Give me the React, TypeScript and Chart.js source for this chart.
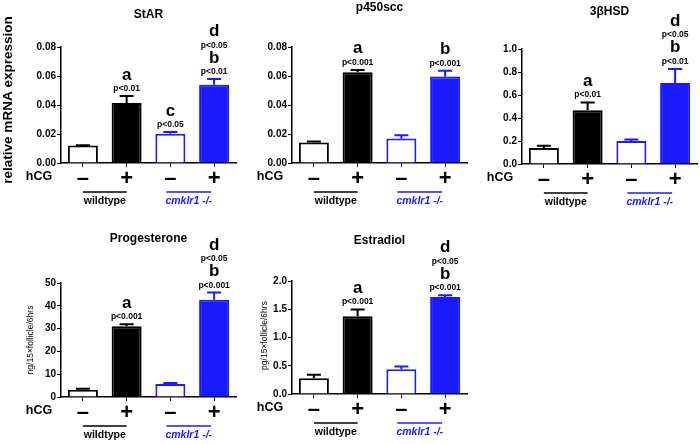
import React, { useEffect, useRef } from "react";
import { Chart, registerables } from "chart.js";
Chart.register(...registerables);

const FONT = "'Liberation Sans', Arial, Helvetica, sans-serif";
Chart.defaults.font.family = FONT;

// ---------- data ----------
const CATEGORIES = ["–", "+", "–", "+"];
const GROUPS = ["wildtype", "cmklr1 -/-"];
const X_LABEL = "hCG";

const STAR_VALUES = [0.0121, 0.0414, 0.0202, 0.054];
const STAR_SEM = [0.0002, 0.0048, 0.0011, 0.0039];
const STAR_ANN = [[], ["a", "p<0.01"], ["c", "p<0.05"], ["d", "p<0.05", "b", "p<0.01"]];

const P450_VALUES = [0.0142, 0.0626, 0.0169, 0.0596];
const P450_SEM = [0.0007, 0.0016, 0.0023, 0.0041];
const P450_ANN = [[], ["a", "p<0.001"], [], ["b", "p<0.001"]];

const HSD_VALUES = [0.139, 0.468, 0.2, 0.705];
const HSD_SEM = [0.02, 0.067, 0.014, 0.122];
const HSD_ANN = [[], ["a", "p<0.01"], [], ["d", "p<0.05", "b", "p<0.01"]];

const PROG_VALUES = [3.2, 31.0, 5.7, 42.7];
const PROG_SEM = [0.4, 0.9, 0.4, 3.1];
const PROG_ANN = [[], ["a", "p<0.001"], [], ["d", "p<0.05", "b", "p<0.001"]];

const E2_VALUES = [0.28, 1.378, 0.44, 1.719];
const E2_SEM = [0.06, 0.118, 0.047, 0.029];
const E2_ANN = [[], ["a", "p<0.001"], [], ["d", "p<0.05", "b", "p<0.001"]];

// ---------- styles ----------
const BLUE = "#1a1aff";
const FILLS = ["#ffffff", "#000000", "#ffffff", BLUE];
const BORDERS = ["#000000", "#000000", BLUE, BLUE];

type Panel = {
  title: string;
  values: number[];
  sem: number[];
  ann: string[][];
  max: number;
  step: number;
  decimals: number;
  yTitle?: string;
  yTitleBold?: boolean;
  yTitleSize?: number;
  yTitleDx?: number;
  yTitleDy?: number;
  box: { left: number; top: number; width: number; height: number };
  area: { left: number; top: number; right: number; bottom: number };
  titleY: number;
};

const PANELS: Panel[] = [
  {
    title: "StAR", values: STAR_VALUES, sem: STAR_SEM, ann: STAR_ANN,
    max: 0.08, step: 0.02, decimals: 2,
    yTitle: "relative mRNA expression", yTitleBold: true, yTitleSize: 13.5, yTitleDx: -53, yTitleDy: -5,
    box: { left: 0, top: 0, width: 240, height: 215 },
    area: { left: 61, top: 47, right: 236, bottom: 163 },
    titleY: 15,
  },
  {
    title: "p450scc", values: P450_VALUES, sem: P450_SEM, ann: P450_ANN,
    max: 0.08, step: 0.02, decimals: 2,
    box: { left: 232, top: 0, width: 240, height: 215 },
    area: { left: 60, top: 47, right: 235, bottom: 163 },
    titleY: 8,
  },
  {
    title: "3βHSD", values: HSD_VALUES, sem: HSD_SEM, ann: HSD_ANN,
    max: 1.0, step: 0.2, decimals: 1,
    box: { left: 462, top: 0, width: 238, height: 215 },
    area: { left: 60, top: 49, right: 235, bottom: 164 },
    titleY: 12,
  },
  {
    title: "Progesterone", values: PROG_VALUES, sem: PROG_SEM, ann: PROG_ANN,
    max: 50, step: 10, decimals: 0,
    yTitle: "ng/15×follicle/6hrs", yTitleBold: false, yTitleSize: 8.5, yTitleDx: -30, yTitleDy: 0,
    box: { left: 0, top: 222, width: 240, height: 222 },
    area: { left: 61, top: 61, right: 236, bottom: 175 },
    titleY: 17,
  },
  {
    title: "Estradiol", values: E2_VALUES, sem: E2_SEM, ann: E2_ANN,
    max: 2.0, step: 0.5, decimals: 1,
    yTitle: "pg/15×follicle/6hrs", yTitleBold: false, yTitleSize: 8.5, yTitleDx: -27, yTitleDy: -2,
    box: { left: 232, top: 222, width: 240, height: 222 },
    area: { left: 60, top: 59, right: 235, bottom: 172 },
    titleY: 19,
  },
];

function PanelChart({ p }: { p: Panel }) {
  const ref = useRef<HTMLCanvasElement | null>(null);
  useEffect(() => {
    const canvas = ref.current;
    if (!canvas) return;
    const overlay = {
      id: "overlay",
      afterDatasetsDraw(chart: any) {
        const ctx = chart.ctx as CanvasRenderingContext2D;
        const { left, right, bottom } = chart.chartArea;
        const xs = chart.scales.x;
        const ys = chart.scales.y;
        const meta = chart.getDatasetMeta(0);
        ctx.save();
        // error bars (upper only)
        p.values.forEach((v, i) => {
          const el = meta.data[i];
          const x = el.x;
          const y0 = ys.getPixelForValue(v);
          const y1 = ys.getPixelForValue(v + p.sem[i]);
          ctx.strokeStyle = BORDERS[i];
          ctx.lineWidth = 2;
          ctx.beginPath();
          ctx.moveTo(x, y0);
          ctx.lineTo(x, y1);
          ctx.moveTo(x - 7, y1);
          ctx.lineTo(x + 7, y1);
          ctx.stroke();
        });
        // significance annotations
        ctx.fillStyle = "#000";
        ctx.textAlign = "center";
        ctx.textBaseline = "alphabetic";
        p.ann.forEach((lines, i) => {
          if (!lines.length) return;
          const x = meta.data[i].x;
          let y = ys.getPixelForValue(p.values[i] + p.sem[i]);
          const rev = [...lines].reverse();
          rev.forEach((t, k) => {
            const isP = t.startsWith("p");
            if (k === 0) y -= 5;
            else y -= isP ? 15 : 11.5;
            ctx.font = isP ? `bold 8.5px ${FONT}` : `bold 17px ${FONT}`;
            ctx.fillText(t, x, y);
          });
        });
        // title
        ctx.font = `bold 12px ${FONT}`;
        ctx.textBaseline = "middle";
        ctx.fillText(p.title, (left + right) / 2, p.titleY);
        // hCG label
        ctx.font = `bold 12.5px ${FONT}`;
        ctx.fillText(X_LABEL, left - 22, bottom + 14);
        // group lines and labels
        const c0 = xs.getPixelForValue(0);
        const c1 = xs.getPixelForValue(1);
        const c2 = xs.getPixelForValue(2) - 4;
        const c3 = xs.getPixelForValue(3) - 3;
        ctx.lineWidth = 1.5;
        ctx.strokeStyle = "#000";
        ctx.beginPath();
        ctx.moveTo(c0, bottom + 29);
        ctx.lineTo(c1, bottom + 29);
        ctx.stroke();
        ctx.strokeStyle = BLUE;
        ctx.beginPath();
        ctx.moveTo(c2, bottom + 29);
        ctx.lineTo(c3, bottom + 29);
        ctx.stroke();
        ctx.font = `bold 10.5px ${FONT}`;
        ctx.fillStyle = "#000";
        ctx.fillText(GROUPS[0], (c0 + c1) / 2, bottom + 38);
        ctx.font = `italic bold 10.5px ${FONT}`;
        ctx.fillStyle = BLUE;
        ctx.fillText(GROUPS[1], (c2 + c3) / 2, bottom + 38);
        // y axis title
        if (p.yTitle) {
          const { top } = chart.chartArea;
          ctx.save();
          ctx.translate(left + (p.yTitleDx || 0), (top + bottom) / 2 + (p.yTitleDy || 0));
          ctx.rotate(-Math.PI / 2);
          ctx.fillStyle = "#000";
          ctx.font = `${p.yTitleBold ? "bold " : ""}${p.yTitleSize}px ${FONT}`;
          ctx.textAlign = "center";
          ctx.textBaseline = "middle";
          ctx.fillText(p.yTitle, 0, 0);
          ctx.restore();
        }
        ctx.restore();
      },
    };
    const W = p.box.width;
    const H = p.box.height;
    const chart = new Chart(canvas, {
      type: "bar",
      data: {
        labels: CATEGORIES,
        datasets: [
          {
            data: p.values,
            backgroundColor: FILLS,
            borderColor: BORDERS,
            borderWidth: 2,
            barPercentage: 0.686,
            categoryPercentage: 1,
          },
        ],
      },
      options: {
        responsive: false,
        maintainAspectRatio: false,
        animation: false,
        devicePixelRatio: 1,
        layout: { padding: { top: p.area.top, right: W - p.area.right, left: 0, bottom: 0 } },
        plugins: { legend: { display: false }, tooltip: { enabled: false }, title: { display: false } },
        scales: {
          x: {
            type: "category",
            offset: true,
            afterFit: (s: any) => { s.height = H - p.area.bottom; },
            grid: { display: true, drawOnChartArea: false, offset: false, tickLength: 4, color: "#000", lineWidth: 1 },
            border: { display: true, color: "#000", width: 1.5 },
            ticks: { color: "#000", font: { size: 22, weight: "bold" }, padding: -1, maxRotation: 0, autoSkip: false },
          },
          y: {
            min: 0,
            max: p.max,
            afterFit: (s: any) => { s.width = p.area.left; },
            grid: { display: true, drawOnChartArea: false, tickLength: 4, color: "#000", lineWidth: 1 },
            border: { display: true, color: "#000", width: 1.5 },
            ticks: {
              stepSize: p.step,
              color: "#000",
              padding: 1,
              font: { size: 10, weight: "bold" },
              callback: (v: any) => Number(v).toFixed(p.decimals),
            },
          },
        },
      },
      plugins: [overlay],
    } as any);
    return () => chart.destroy();
  }, [p]);
  return (
    <canvas
      ref={ref}
      width={p.box.width}
      height={p.box.height}
      style={{ position: "absolute", left: p.box.left, top: p.box.top, width: p.box.width, height: p.box.height }}
    />
  );
}

export default function App() {
  return (
    <div style={{ position: "absolute", left: 0, top: 0, width: 700, height: 444, background: "#fff", overflow: "hidden" }}>
      {PANELS.map((p) => (
        <PanelChart key={p.title} p={p} />
      ))}
    </div>
  );
}
